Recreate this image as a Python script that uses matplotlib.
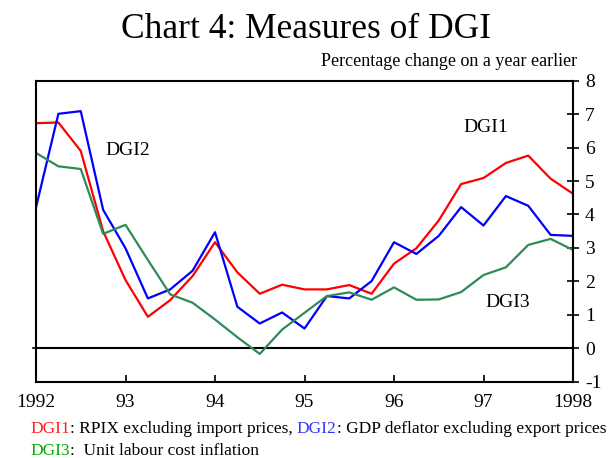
import matplotlib
matplotlib.use("Agg")
import matplotlib.pyplot as plt
from matplotlib.ticker import FixedLocator

plt.rcParams['font.family'] = ['Liberation Serif', 'DejaVu Serif']
plt.rcParams['axes.unicode_minus'] = False

quarters = [1992.00, 1992.25, 1992.50, 1992.75,
            1993.00, 1993.25, 1993.50, 1993.75,
            1994.00, 1994.25, 1994.50, 1994.75,
            1995.00, 1995.25, 1995.50, 1995.75,
            1996.00, 1996.25, 1996.50, 1996.75,
            1997.00, 1997.25, 1997.50, 1997.75,
            1998.00]

dgi1 = [6.73, 6.75, 5.90, 3.50, 2.04, 0.94, 1.44, 2.16, 3.17, 2.27, 1.63, 1.90,
        1.76, 1.76, 1.89, 1.63, 2.53, 2.99, 3.82, 4.91, 5.09, 5.54, 5.76, 5.07, 4.62]
dgi2 = [4.21, 7.01, 7.09, 4.14, 2.99, 1.49, 1.76, 2.32, 3.47, 1.24, 0.74, 1.07,
        0.59, 1.56, 1.49, 2.01, 3.17, 2.82, 3.36, 4.22, 3.67, 4.55, 4.26, 3.39, 3.36]
dgi3 = [5.84, 5.44, 5.36, 3.42, 3.69, 2.64, 1.61, 1.36, 0.86, 0.33, -0.17, 0.56,
        1.06, 1.56, 1.67, 1.45, 1.82, 1.45, 1.46, 1.68, 2.19, 2.42, 3.09, 3.27, 2.94]

year_ticks = [1992, 1993, 1994, 1995, 1996, 1997, 1998]
year_labels = ['1992', '93', '94', '95', '96', '97', '1998']
y_ticks = [-1, 0, 1, 2, 3, 4, 5, 6, 7, 8]

fig = plt.figure(figsize=(6.15, 4.58), dpi=100)
ax = fig.add_axes([36/615, 1 - 381.7/458, (573-36)/615, (381.7-80.7)/458])

ax.plot(quarters, dgi1, color='#ff0000', lw=1.6)
ax.plot(quarters, dgi2, color='#0000ff', lw=1.6)
ax.plot(quarters, dgi3, color='#2e8b57', lw=1.6)
ax.axhline(0, color='black', lw=1.5, zorder=1)

ax.set_xlim(1992, 1998)
ax.set_ylim(-1, 8)
for s in ax.spines.values():
    s.set_linewidth(1.5)

ax.xaxis.set_major_locator(FixedLocator(year_ticks))
ax.set_xticklabels(year_labels)
ax.tick_params(axis='x', direction='in', length=5, width=1.2, labelsize=14, pad=9)

ax.yaxis.tick_right()
ax.yaxis.set_major_locator(FixedLocator(y_ticks))
ax.tick_params(axis='y', direction='inout', length=9, width=1.2, labelsize=14, pad=4)

# small outward tick at zero on the left spine
ax.plot([-0.006, 0], [0, 0], transform=ax.get_yaxis_transform(), color='black', lw=1.2, clip_on=False)

ax.text(1993.03, 5.9, 'DGI2', fontsize=14, ha='center', va='center')
ax.text(1997.03, 6.59, 'DGI1', fontsize=14, ha='center', va='center')
ax.text(1997.27, 1.38, 'DGI3', fontsize=14, ha='center', va='center')

fig.text(306/615, 1 - 30/458, 'Chart 4: Measures of DGI', fontsize=25.5, ha='center', va='center')
fig.text(577/615, 1 - 62/458, 'Percentage change on a year earlier', fontsize=13, ha='right', va='center')

# footnote with coloured pieces
fig.canvas.draw()
renderer = fig.canvas.get_renderer()

def chain(pieces, x0, y0):
    x = x0
    for txt, col in pieces:
        t = fig.text(x, y0, txt, color=col, fontsize=12.5, ha='left', va='center')
        bb = t.get_window_extent(renderer=renderer)
        x = x + bb.width / fig.bbox.width

chain([('DGI1', '#ff2020'), (': RPIX excluding import prices, ', 'black'),
       ('DGI2', '#3333ff'), (': GDP deflator excluding export prices', 'black')],
      30/615, 1 - 429/458)
chain([('DGI3', '#00aa00'), (':  Unit labour cost inflation', 'black')],
      30/615, 1 - 451/458)

fig.savefig('out.png', dpi=100)
